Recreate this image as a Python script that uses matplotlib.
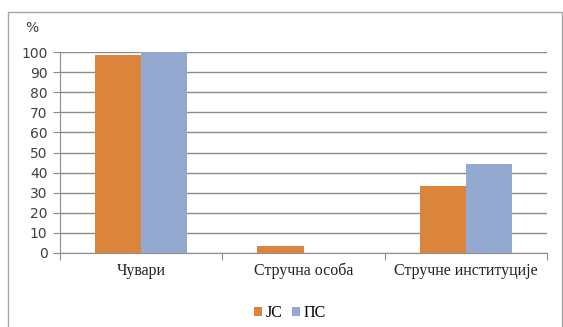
import numpy as np
import matplotlib.pyplot as plt
from matplotlib.patches import Rectangle

# данные
categories = ["Чувари", "Стручна особа", "Стручне институције"]
jc = [98.5, 3.5, 33.5]
pc = [100, 0, 44.3]
series_names = ["JC", "ПС"]
yticks = list(range(0, 101, 10))

c_jc = "#DA843C"
c_pc = "#93A9CF"
grid_c = "#8C8C8C"

fig = plt.figure(figsize=(5.63, 3.27), dpi=100)
fig.patches.append(Rectangle((8 / 563, -0.05), (562 - 8) / 563, 1.05 - 12 / 327,
                             transform=fig.transFigure, fill=False,
                             edgecolor="#A6A6A6", linewidth=1))
ax = fig.add_axes([60 / 563, 74 / 327, (547 - 60) / 563, (253 - 52) / 327])

x = np.arange(len(categories))
w = 0.284
ax.bar(x - w / 2, jc, width=w, color=c_jc, label=series_names[0], zorder=3)
ax.bar(x + w / 2, pc, width=w, color=c_pc, label=series_names[1], zorder=3)

ax.set_xlim(-0.5, 2.5)
ax.set_ylim(0, 100)
ax.set_yticks(yticks)
ax.set_yticklabels([str(t) for t in yticks], fontsize=10, color="#404040",
                   family="DejaVu Sans")
ax.yaxis.grid(True, color=grid_c, linewidth=1, zorder=0)
ax.tick_params(axis="y", length=5, color=grid_c, pad=4)

ax.set_xticks([-0.5, 0.5, 1.5, 2.5])
ax.set_xticklabels([])
ax.tick_params(axis="x", length=5, color=grid_c)
for i, c in enumerate(categories):
    ax.text(i, -9, c, ha="center", va="center", fontsize=11.5,
            family="Liberation Serif", color="#222222")

for s in ["top", "right"]:
    ax.spines[s].set_visible(False)
ax.spines["left"].set_color(grid_c)
ax.spines["bottom"].set_color(grid_c)

fig.text(32 / 563, 1 - 28 / 327, "%", ha="center", va="center", fontsize=10,
         family="DejaVu Sans", color="#404040")

fig.legend(loc="center", bbox_to_anchor=(290 / 563, 1 - 313 / 327), ncol=2,
           frameon=False, prop={"family": "Liberation Serif", "size": 11.5},
           handlelength=0.5, handleheight=0.5, handletextpad=0.2, columnspacing=0.6)

fig.savefig("out.png", dpi=100)
